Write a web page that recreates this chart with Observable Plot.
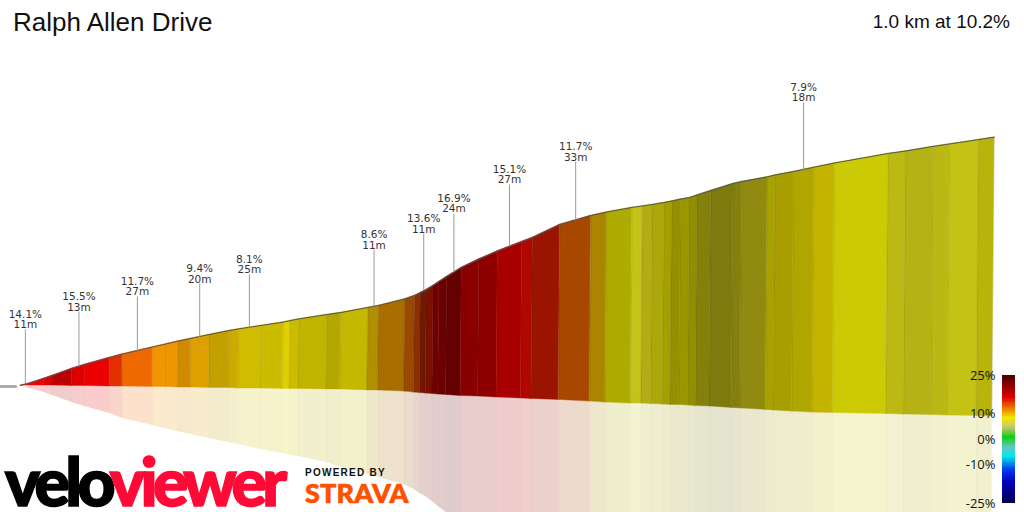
<!DOCTYPE html>
<html>
<head>
<meta charset="utf-8">
<script src="https://cdn.jsdelivr.net/npm/d3@7"></script>
<script src="https://cdn.jsdelivr.net/npm/@observablehq/plot@0.6"></script>
<style>
html,body{margin:0;padding:0;background:#fff;overflow:hidden}
#page{position:relative;width:1024px;height:512px;overflow:hidden;font-family:"Liberation Sans",Arial,sans-serif}
#page>div{position:absolute;white-space:nowrap}
#chart,#legend{position:absolute;max-width:none !important;background:transparent}
#chart{left:0;top:0}
#legend{left:950px;top:358.5px}
#title{left:13px;top:7px;font-size:26px;color:#111}
#summary{right:14px;top:11px;font-size:19px;color:#111}
#logo{left:5px;top:450px;font-family:"Lato",sans-serif;font-weight:900;font-size:66px;letter-spacing:-4.6px;line-height:62px;color:#000;-webkit-text-stroke:1.6px currentColor}
#logo span{color:#ff0a36}
#powered{left:305px;top:467px;font-size:10px;font-weight:bold;letter-spacing:1.25px;color:#111}
#strava{left:305px;top:478px;font-size:27px;line-height:30px;font-weight:900;font-family:"Lato",sans-serif;letter-spacing:.2px;color:#fc5200;-webkit-text-stroke:.7px currentColor}
</style>
</head>
<body>
<div id="page">
<div id="chartWrap" style="left:0;top:0;width:1024px;height:512px"></div>
<div id="title">Ralph Allen Drive</div>
<div id="summary">1.0 km at 10.2%</div>
<div id="logo">velo<span>viewer</span></div>
<div id="powered">POWERED BY</div>
<div id="strava">STRAVA</div>
</div>
<script>
// Distance along the climb (m), one entry per segment boundary
const distance = [0,10,24,33,53,66,92,105,136,149,162,175,194,214,224,247,270,277,286,315,329,357,368,395,405,411,417,424,430,438,453,471,490,515,526,554,586,602,628,639,649,661,669,678,687,695,709,732,741,767,775,794,815,836,891,909,937,954,984,1000];
// Elevation of the road above the start (m)
const elevation = [0,1.0,2.9,4.1,7.0,8.6,11.5,12.9,15.8,17.0,18.2,19.3,20.9,22.5,23.2,24.6,26.0,26.6,27.3,29.1,29.9,32.0,32.8,35.5,36.9,38.1,39.3,41.0,42.6,44.7,48.4,51.8,55.1,59.0,60.7,66.0,69.7,71.1,73.0,73.6,74.2,75.0,75.6,76.4,77.0,78.1,79.9,82.8,83.6,85.5,86.3,87.7,89.5,91.2,95.1,96.1,98.0,99.0,100.8,101.8];
// Lower edge of the profile face
const baseLevel = [0,0,0,0,-0.2,-0.2,-0.4,-0.4,-0.6,-0.6,-0.8,-0.8,-1.0,-1.0,-1.2,-1.2,-1.4,-1.4,-1.4,-1.6,-1.6,-2.0,-2.0,-2.5,-2.9,-3.1,-3.3,-3.5,-3.7,-3.9,-4.3,-4.5,-4.9,-5.3,-5.5,-5.9,-6.6,-7.0,-7.4,-7.4,-7.6,-7.8,-8.0,-8.0,-8.2,-8.4,-8.6,-9.2,-9.4,-10.0,-10.2,-10.7,-11.1,-11.3,-11.7,-11.9,-12.1,-12.3,-12.5,-12.7];
// Lower edge of the pale reflection
const shadowLevel = [0,-1.2,-2.9,-4.1,-7.0,-8.6,-11.5,-13.5,-16.4,-17.6,-18.9,-20.1,-21.7,-23.4,-24.2,-26.2,-27.9,-28.5,-29.1,-31.6,-33.6,-36.5,-37.7,-40.6,-42.6,-44.3,-45.5,-47.5,-49.6,-52.0,-58,-65,-72,-80,-84,-95,-105,-110,-118,-121,-124,-128,-130,-133,-136,-138,-142,-149,-152,-160,-162,-167,-173,-179,-190,-194,-200,-203,-209,-213];
// Colour of each segment
const segmentColors = ["#e81000","#ee0000","#dd0000","#bb0000","#dd0000","#ea0000","#e23000","#ee6a00","#f29600","#ee9600","#d08a00","#dea000","#c2a000","#ccaa00","#d2bc00","#ccbc00","#e0d000","#cbbc00","#c0b400","#b4a800","#c4b800","#b09000","#a96e00","#9a4a00","#8c3000","#701800","#7a1000","#700000","#6c0000","#640000","#8a0000","#8c0000","#a80000","#b00800","#9a1400","#a84800","#ab8500","#adab00","#c3c31a","#b4ac14","#aca80c","#a4a000","#949000","#9a9600","#928e00","#84800a","#7e7a0e","#84800e","#908a10","#a8a200","#a89e00","#b0a600","#c4b400","#ccca04","#bdb914","#b4b214","#bab814","#c4c214","#b8b40c"];
// Flat lead-in before the climb
const leadInDistance = [-20,-5];
const leadInElevation = [-0.4,-0.4];
// Steep-section call-outs
const calloutGrade = ["14.1%","15.5%","11.7%","9.4%","8.1%","8.6%","13.6%","16.9%","15.1%","11.7%","7.9%"];
const calloutLength = ["11m","13m","27m","20m","25m","11m","11m","24m","27m","33m","18m"];
const calloutDistance = [5,60,120,184,235,363,414,445,502,570,804];
const calloutRoad = [0.8,7.8,14.3,19.7,23.8,32.4,38.9,46.5,57.0,67.8,88.5];
const calloutTop = [23.0,30.3,36.5,41.8,45.5,55.7,62.3,70.5,82.4,91.8,116.0];
// Grade legend
const legendTicks = [25,10,0,-10,-25];
const legendStops = [-25,-17,-12,-7,-3.5,0.5,4.5,8,11.5,16,20,25];
const legendColors = ["#000050","#0000c0","#0040f0","#00e8e8","#60c8c8","#10d010","#c8c870","#f0e800","#f08000","#e00000","#a00000","#400000"];

const perspective = 0.9975; // the lower edge leans slightly toward the viewer

const segIds = segmentColors.map((_, i) => i);
const face = segIds.flatMap(i => [i, i + 1].map(j => ({
  seg: i, d: distance[j], top: elevation[j],
  bd: distance[j] * perspective, base: baseLevel[j], shadow: shadowLevel[j]
})));
const seams = distance.map((d, j) => ({d, top: elevation[j], bd: d * perspective, base: baseLevel[j], shadow: shadowLevel[j]}));
const road = distance.map((d, j) => ({d, e: elevation[j]}));
const callouts = calloutGrade.map((g, i) => ({
  label: g + "\n" + calloutLength[i], d: calloutDistance[i], road: calloutRoad[i], top: calloutTop[i]
}));
const leadIn = leadInDistance.map((d, i) => ({d, e: leadInElevation[i]}));

const chart = Plot.plot({
  width: 1024, height: 512,
  margin: 0,
  x: {domain: [-20.53, 1030.8], axis: null},
  y: {domain: [-52.05, 157.8], axis: null},
  color: {type: "ordinal", domain: segIds, range: segmentColors},
  marks: [
    Plot.area(face, {x1: "bd", y1: "base", x2: "bd", y2: "shadow", z: "seg", fill: "seg", fillOpacity: 0.2}),
    Plot.link(seams, {x1: "bd", y1: "base", x2: "bd", y2: "shadow", stroke: "#000", strokeOpacity: 0.02, strokeWidth: 1}),
    Plot.area(face, {x1: "d", y1: "top", x2: "bd", y2: "base", z: "seg", fill: "seg", stroke: "seg", strokeWidth: 0.4}),
    Plot.link(seams, {x1: "d", y1: "top", x2: "bd", y2: "base", stroke: "#000", strokeOpacity: 0.08, strokeWidth: 1}),
    Plot.line(leadIn, {x: "d", y: "e", stroke: "#aaa", strokeWidth: 3}),
    Plot.line(road, {x: "d", y: "e", stroke: "#555", strokeWidth: 1}),
    Plot.link(callouts, {x1: "d", x2: "d", y1: "road", y2: "top", stroke: "#999", strokeWidth: 1}),
    Plot.text(callouts, {x: "d", y: "top", text: "label", lineAnchor: "bottom", lineHeight: 1, dy: -1,
      fontSize: 10.5, fontFamily: "DejaVu Sans", fill: "#333"})
  ]
});
chart.id = "chart";
document.getElementById("chartWrap").appendChild(chart);

const ramp = d3.range(-25, 25, 0.5).map(v => ({v, v2: Math.min(25, v + 1)}));
const legend = Plot.plot({
  width: 74, height: 153,
  marginTop: 16, marginBottom: 9, marginLeft: 52, marginRight: 9,
  style: {background: "transparent"},
  x: {domain: [0, 1], axis: null},
  y: {domain: [-25, 25], axis: null},
  color: {type: "linear", domain: legendStops, range: legendColors, interpolate: "rgb"},
  marks: [
    Plot.rect(ramp, {x1: 0, x2: 1, y1: "v", y2: "v2", fill: "v", shapeRendering: "crispEdges"}),
    Plot.axisY({ticks: legendTicks, tickFormat: d => d + "%", tickSize: 0, tickPadding: 7, anchor: "left",
      fontSize: 13, fontFamily: "Open Sans", fill: "#111"})
  ]
});
legend.id = "legend";
document.getElementById("page").appendChild(legend);
</script>
</body>
</html>
